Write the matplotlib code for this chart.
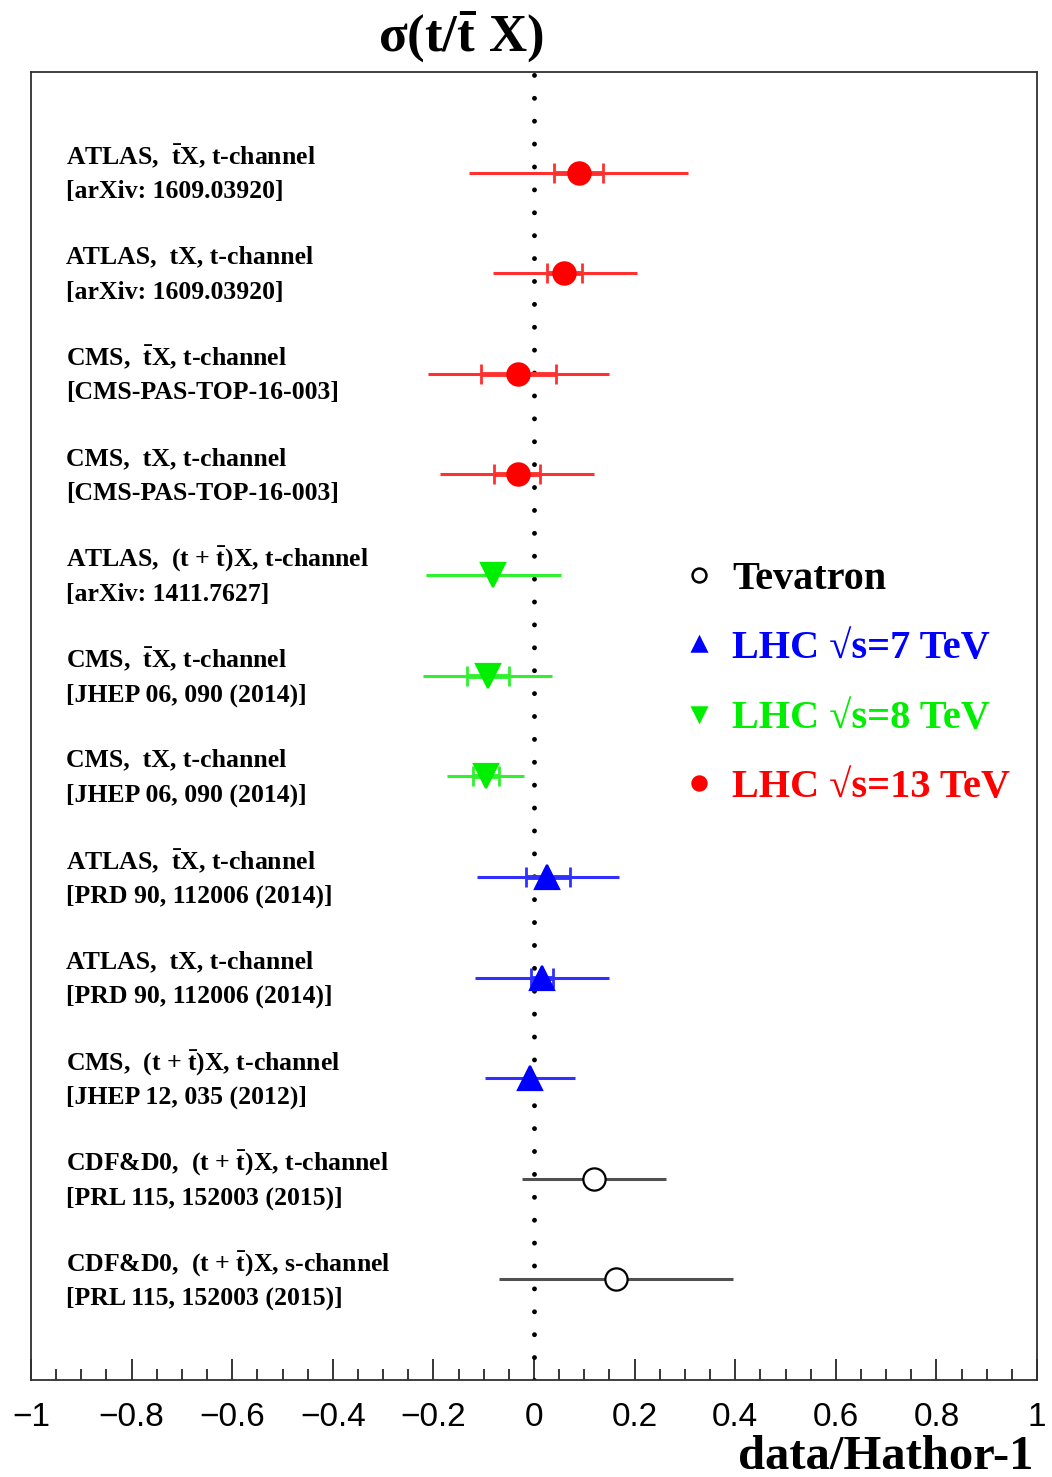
import numpy as np
import matplotlib
matplotlib.use("Agg")
import matplotlib.pyplot as plt
from matplotlib.lines import Line2D
from matplotlib.ticker import MultipleLocator

plt.rcParams['mathtext.fontset'] = 'custom'
plt.rcParams['mathtext.rm'] = 'Liberation Serif:bold'
plt.rcParams['mathtext.it'] = 'Liberation Serif:bold'
plt.rcParams['mathtext.bf'] = 'Liberation Serif:bold'

# measurements, top to bottom
line1 = [
    r"ATLAS,  $\mathrm{\bar{t}}$X, t-channel",
    "ATLAS,  tX, t-channel",
    r"CMS,  $\mathrm{\bar{t}}$X, t-channel",
    "CMS,  tX, t-channel",
    r"ATLAS,  (t + $\mathrm{\bar{t}}$)X, t-channel",
    r"CMS,  $\mathrm{\bar{t}}$X, t-channel",
    "CMS,  tX, t-channel",
    r"ATLAS,  $\mathrm{\bar{t}}$X, t-channel",
    "ATLAS,  tX, t-channel",
    r"CMS,  (t + $\mathrm{\bar{t}}$)X, t-channel",
    r"CDF&D0,  (t + $\mathrm{\bar{t}}$)X, t-channel",
    r"CDF&D0,  (t + $\mathrm{\bar{t}}$)X, s-channel",
]
line2 = [
    "[arXiv: 1609.03920]",
    "[arXiv: 1609.03920]",
    "[CMS-PAS-TOP-16-003]",
    "[CMS-PAS-TOP-16-003]",
    "[arXiv: 1411.7627]",
    "[JHEP 06, 090 (2014)]",
    "[JHEP 06, 090 (2014)]",
    "[PRD 90, 112006 (2014)]",
    "[PRD 90, 112006 (2014)]",
    "[JHEP 12, 035 (2012)]",
    "[PRL 115, 152003 (2015)]",
    "[PRL 115, 152003 (2015)]",
]
group = ["13", "13", "13", "13", "8", "8", "8", "7", "7", "7", "tev", "tev"]
central = [0.089, 0.060, -0.032, -0.032, -0.082, -0.091, -0.095, 0.026, 0.016, -0.008, 0.119, 0.163]
tot_lo = [-0.129, -0.081, -0.211, -0.187, -0.215, -0.221, -0.173, -0.113, -0.117, -0.097, -0.024, -0.070]
tot_hi = [0.306, 0.205, 0.149, 0.119, 0.054, 0.036, -0.020, 0.169, 0.149, 0.082, 0.262, 0.396]
in_lo = [0.040, 0.026, -0.105, -0.080, np.nan, -0.133, -0.121, -0.016, -0.006, np.nan, np.nan, np.nan]
in_hi = [0.137, 0.095, 0.044, 0.012, np.nan, -0.050, -0.070, 0.072, 0.038, np.nan, np.nan, np.nan]

styles = {
    "tev": dict(color="black", line="#505050", marker="o", mfc="white", label="Tevatron"),
    "7": dict(color="blue", line="#3030ff", marker="^", mfc="blue", label="LHC \u221as=7 TeV"),
    "8": dict(color="#00ee00", line="#30f030", marker="v", mfc="#00ee00", label="LHC \u221as=8 TeV"),
    "13": dict(color="red", line="#ff3030", marker="o", mfc="red", label="LHC \u221as=13 TeV"),
}

n = len(central)
ypos = np.arange(n, 0, -1)

fig = plt.figure(figsize=(10.52, 14.77), dpi=100)
ax = fig.add_axes([31/1052, 1 - 1380/1477, 1006/1052, 1308/1477])

ax.plot([0, 0], [0, n + 1], color="black", lw=3.5, linestyle=(0, (0.01, 4.7)),
        dash_capstyle="round", zorder=1)

for i in range(n):
    s = styles[group[i]]
    y = ypos[i]
    c = central[i]
    ax.errorbar([c], [y], xerr=[[c - tot_lo[i]], [tot_hi[i] - c]], fmt="none",
                ecolor=s["line"], elinewidth=2.2, capsize=0, zorder=2)
    if not np.isnan(in_lo[i]):
        ax.errorbar([c], [y], xerr=[[c - in_lo[i]], [in_hi[i] - c]], fmt="none",
                    ecolor=s["line"], elinewidth=3.5, capsize=7.5, capthick=2, zorder=3)
    ms = 16 if s["marker"] == "o" else 17
    ax.plot([c], [y], marker=s["marker"], ms=ms, mfc=s["mfc"], mec=s["color"],
            mew=1.6, ls="none", zorder=4)
    ax.text(-0.93, y + 0.16, line1[i], fontsize=18.5, family="Liberation Serif",
            fontweight="bold", va="center", ha="left")
    ax.text(-0.93, y - 0.19, line2[i], fontsize=18.5, family="Liberation Serif",
            fontweight="bold", va="center", ha="left")

ax.set_xlim(-1, 1)
ax.set_ylim(0, n + 1)
ax.xaxis.set_major_locator(MultipleLocator(0.2))
ax.xaxis.set_minor_locator(MultipleLocator(0.05))
ax.set_yticks([])
ax.tick_params(axis="x", which="major", direction="in", length=15, width=1.1,
               labelsize=24, pad=16, top=False)
ax.tick_params(axis="x", which="minor", direction="in", length=8, width=1.1, top=False)
for lab in ax.get_xticklabels():
    lab.set_family("Liberation Sans")
ax.xaxis.set_major_formatter(matplotlib.ticker.FuncFormatter(
    lambda v, p: "0" if abs(v) < 1e-9 else ("%g" % v).replace("-", "\u2212")))
for sp in ax.spines.values():
    sp.set_linewidth(1.3)
    sp.set_color("#303030")

# legend
order = ["tev", "7", "8", "13"]
handles = [Line2D([], [], marker=styles[k]["marker"], ls="none", ms=10,
                  mfc=styles[k]["mfc"], mec=styles[k]["color"], mew=1.8) for k in order]
leg = ax.legend(handles, [styles[k]["label"] for k in order], loc="upper left",
                bbox_to_anchor=(0.612, 0.654), frameon=False, handlelength=0.8,
                handletextpad=0.42, labelspacing=0.8,
                labelcolor=[styles[k]["color"] for k in order],
                prop={"family": "Liberation Serif", "weight": "bold", "size": 29})

fig.text(461/1052, 1 - 37/1477, r"$\mathrm{\sigma(t/\bar{t}\ X)}$", fontsize=38,
         ha="center", va="center")
fig.text(1033/1052, 1 - 1469/1477, "data/Hathor-1", fontsize=35, family="Liberation Serif",
         fontweight="bold", ha="right", va="baseline")

fig.savefig("out.png", dpi=100)
